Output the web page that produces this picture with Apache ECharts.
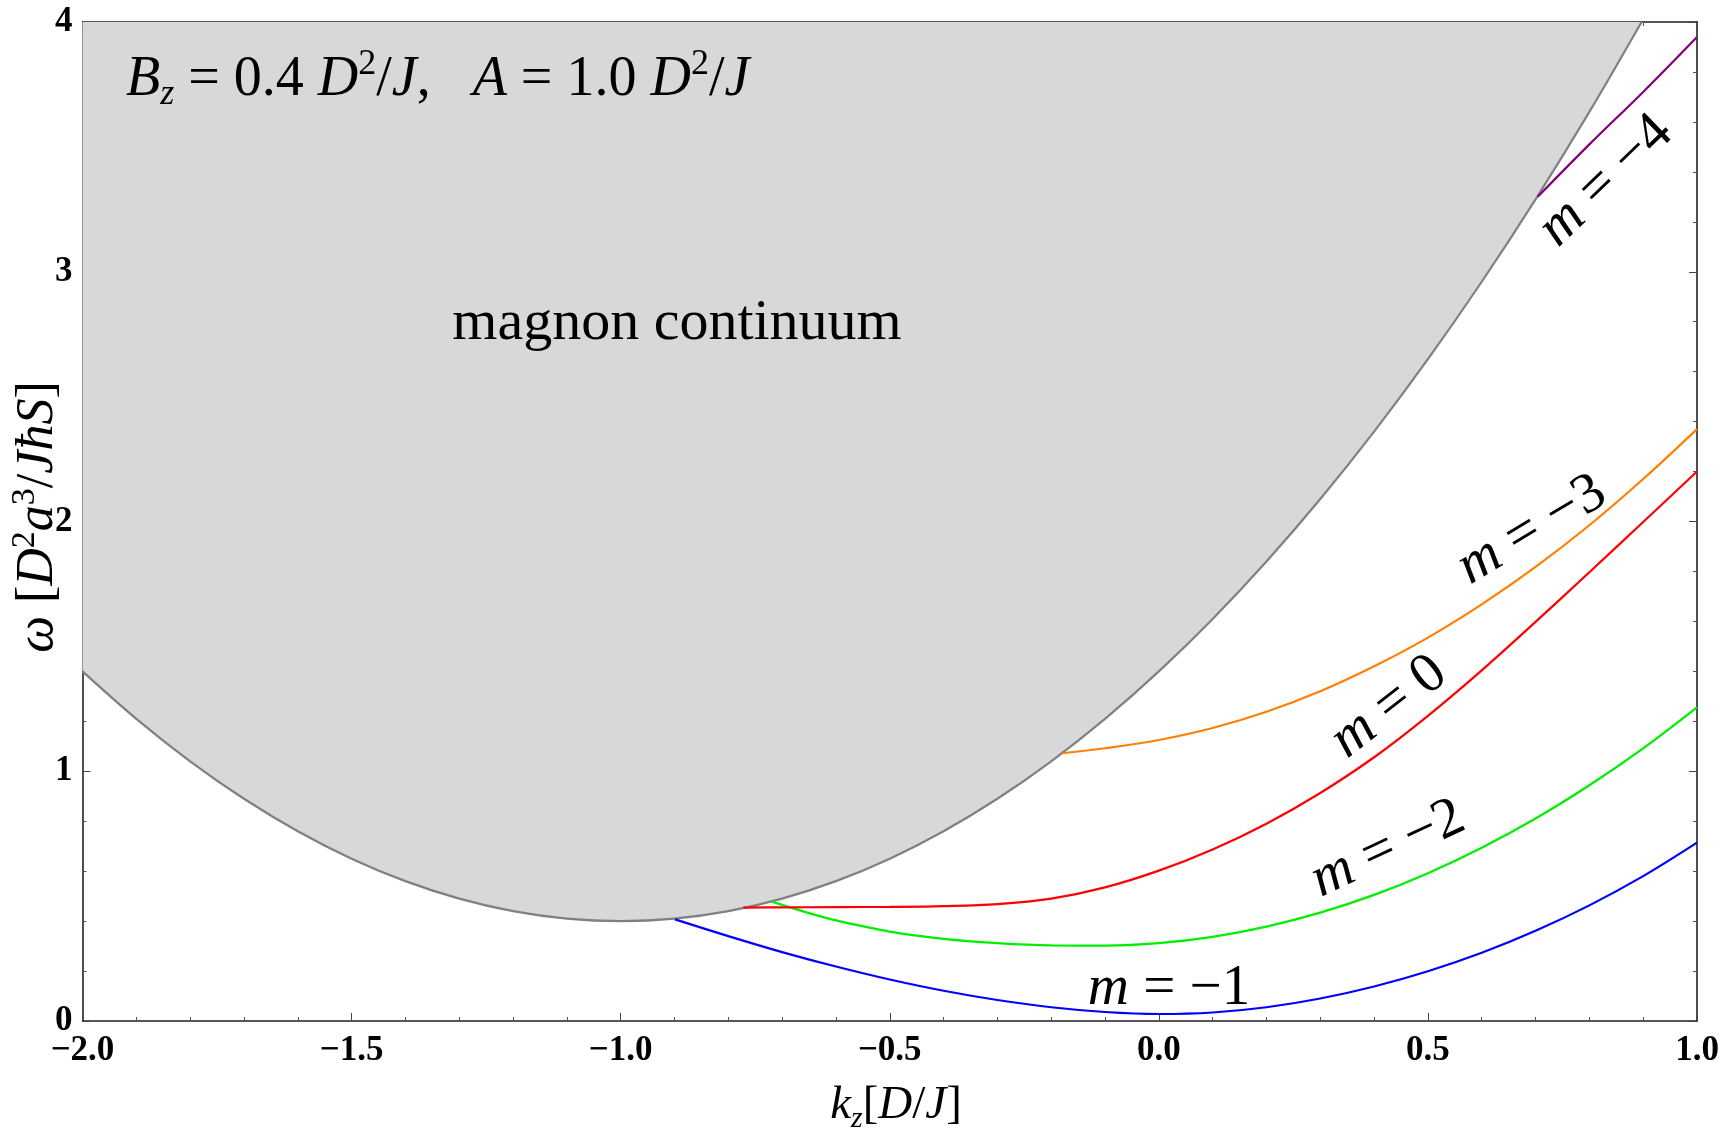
<!DOCTYPE html>
<html>
<head>
<meta charset="utf-8">
<script src="https://cdn.jsdelivr.net/npm/echarts@6/dist/echarts.min.js"></script>
<style>
html,body{margin:0;padding:0;background:#fff;}
#chart{width:1725px;height:1146px;}
</style>
</head>
<body>
<div id="chart"></div>
<script>
// ---- data ----
const contKz = [-2.0,-1.9,-1.8,-1.7,-1.6,-1.5,-1.4,-1.3,-1.2,-1.1,-1.0,-0.9,-0.8,-0.7,-0.6,-0.5,-0.4,-0.3,-0.2,-0.1,0.0,0.1,0.2,0.3,0.4,0.5,0.6,0.7,0.8,0.897];
const contW  = [1.40,1.21,1.04,0.89,0.76,0.65,0.56,0.49,0.44,0.41,0.40,0.41,0.44,0.49,0.56,0.65,0.76,0.89,1.04,1.21,1.40,1.61,1.84,2.09,2.36,2.65,2.96,3.29,3.64,4.00];

const blueKz = [-0.899,-0.8,-0.7,-0.6,-0.5,-0.4,-0.3,-0.2,-0.1,0.0,0.1,0.2,0.3,0.4,0.5,0.6,0.7,0.8,0.9,1.0];
const blueW  = [0.407,0.340,0.276,0.218,0.166,0.121,0.084,0.055,0.036,0.028,0.034,0.055,0.090,0.138,0.199,0.273,0.361,0.463,0.580,0.714];

const greenKz = [-0.719,-0.65,-0.6,-0.5,-0.4,-0.3,-0.2,-0.1,0.0,0.1,0.2,0.3,0.4,0.5,0.6,0.7,0.8,0.9,1.0];
const greenW  = [0.478,0.432,0.403,0.358,0.329,0.312,0.303,0.302,0.312,0.337,0.378,0.434,0.505,0.592,0.694,0.811,0.944,1.092,1.256];

const redKz = [-0.772,-0.7,-0.6,-0.5,-0.4,-0.3,-0.2,-0.1,0.0,0.1,0.2,0.3,0.4,0.5,0.6,0.7,0.8,0.9,1.0];
const redW  = [0.454,0.455,0.456,0.457,0.460,0.468,0.490,0.535,0.602,0.687,0.790,0.913,1.056,1.222,1.404,1.598,1.797,1.998,2.200];

const orangeKz = [-0.179,-0.1,0.0,0.1,0.2,0.3,0.4,0.5,0.6,0.7,0.8,0.9,1.0];
const orangeW  = [1.072,1.092,1.125,1.173,1.238,1.320,1.420,1.535,1.668,1.818,1.985,2.170,2.370];

const purpleKz = [0.704,0.8,0.9,1.0];
const purpleW  = [3.30,3.51,3.72,3.94];

const xTickValues = [-2.0,-1.5,-1.0,-0.5,0.0,0.5,1.0];
const xTickLabels = ['\u22122.0','\u22121.5','\u22121.0','\u22120.5','0.0','0.5','1.0'];
const yTickValues = [0,1,2,3,4];
const yTickLabels = ['0','1','2','3','4'];

const modeNames = ['\u22121','\u22122','0','\u22123','\u22124'];
// ------------------------------------------------

const SERIF = 'Liberation Serif';
function pairs(xs, ys){ return xs.map((x,i)=>[x, ys[i]]); }
function fmt(values, labels){
  return function(v){
    for (let i=0;i<values.length;i++){ if (Math.abs(values[i]-v)<1e-9) return labels[i]; }
    return '';
  };
}

const chart = echarts.init(document.getElementById('chart'), null, {renderer:'canvas'});

const frameLine = {show:true, onZero:false, lineStyle:{color:'#222', width:1.6}};
const tick = {show:true, inside:true, length:8, lineStyle:{color:'#444', width:1}};
const minor = {show:true, splitNumber:5, length:4, lineStyle:{color:'#555', width:1}};
const tickLabel = {color:'#000', fontFamily:SERIF, fontWeight:'bold', fontSize:35};

function curve(name, xs, ys, color){
  return {
    name, type:'line', data:pairs(xs,ys), showSymbol:false, symbol:'none',
    smooth:0.35, clip:true,
    lineStyle:{color, width:2.2}, z:3
  };
}

const italic = {fontStyle:'italic', fontFamily:SERIF, fill:'#000'};
function mLabel(val, x, y, deg, size){
  size = size || 57;
  return {
    type:'text', x, y, rotation: deg*Math.PI/180, z:100,
    style:{
      text:'{i|m} = ' + val, fontFamily:SERIF, fontSize:size, fill:'#000',
      align:'center', verticalAlign:'middle',
      rich:{ i:Object.assign({fontSize:size}, italic) }
    }
  };
}

const option = {
  animation:false,
  backgroundColor:'#ffffff',
  grid:{left:82.5, right:28, top:22, bottom:125, containLabel:false},
  xAxis:[
    {type:'value', min:-2, max:1, interval:0.5, position:'bottom',
     axisLine:frameLine, axisTick:tick, minorTick:minor, splitLine:{show:false},
     axisLabel:Object.assign({margin:12, formatter:fmt(xTickValues,xTickLabels)}, tickLabel)},
    {type:'value', min:-2, max:1, interval:0.5, position:'top',
     axisLine:frameLine, axisTick:tick, minorTick:minor, splitLine:{show:false},
     axisLabel:{show:false}}
  ],
  yAxis:[
    {type:'value', min:0, max:4, interval:1, position:'left',
     axisLine:frameLine, axisTick:tick, minorTick:minor, splitLine:{show:false},
     axisLabel:Object.assign({margin:10, formatter:fmt(yTickValues,yTickLabels)}, tickLabel)},
    {type:'value', min:0, max:4, interval:1, position:'right',
     axisLine:frameLine, axisTick:tick, minorTick:minor, splitLine:{show:false},
     axisLabel:{show:false}}
  ],
  series:[
    {name:'continuum', type:'line', data:pairs(contKz,contW), showSymbol:false, symbol:'none',
     smooth:0.35,
     lineStyle:{color:'#808080', width:2.2},
     areaStyle:{color:'#d8d8d8', opacity:1, origin:'end'}, z:2},
    curve('m=-1', blueKz, blueW, '#0000ff'),
    curve('m=-2', greenKz, greenW, '#00ee00'),
    curve('m=0', redKz, redW, '#ff0000'),
    curve('m=-3', orangeKz, orangeW, '#ff8000'),
    curve('m=-4', purpleKz, purpleW, '#800080')
  ],
  graphic:[
    {type:'text', x:126, y:80, z:100,
     style:{
       text:'{i|B}{sub|z} = 0.4 {i|D}{sup|2}/{i|J},   {i|A} = 1.0 {i|D}{sup|2}/{i|J}',
       fontFamily:SERIF, fontSize:56, fill:'#000', align:'left', verticalAlign:'middle',
       rich:{
         i:Object.assign({fontSize:56, lineHeight:66}, italic),
         sub:Object.assign({fontSize:36, verticalAlign:'bottom', lineHeight:66}, italic),
         sup:{fontFamily:SERIF, fontSize:36, fill:'#000', verticalAlign:'top', lineHeight:66}
       }
     }},
    {type:'text', x:677, y:324, z:100,
     style:{text:'magnon continuum', fontFamily:SERIF, fontSize:58, fill:'#000', align:'center', verticalAlign:'middle'}},
    {type:'text', x:896, y:1106, z:100,
     style:{
       text:'{i|k}{sub|z}[{i|D}/{i|J}]',
       fontFamily:SERIF, fontSize:47, fill:'#000', align:'center', verticalAlign:'middle',
       rich:{
         i:Object.assign({fontSize:47, lineHeight:56}, italic),
         sub:Object.assign({fontSize:30, verticalAlign:'bottom', lineHeight:56}, italic)
       }
     }},
    {type:'text', x:38, y:517, rotation:Math.PI/2, z:100,
     style:{
       text:'{i|\u03c9} [{i|D}{sup|2}{i|a}{sup|3}/{i|J\u0127S}]',
       fontFamily:SERIF, fontSize:52, fill:'#000', align:'center', verticalAlign:'middle',
       rich:{
         i:Object.assign({fontSize:52, lineHeight:60}, italic),
         sup:{fontFamily:SERIF, fontSize:34, fill:'#000', verticalAlign:'top', lineHeight:60}
       }
     }},
    mLabel(modeNames[0], 1169, 989, 0),
    mLabel(modeNames[1], 1388, 849, 25),
    mLabel(modeNames[2], 1389, 707, 38),
    mLabel(modeNames[3], 1532, 530, 31),
    mLabel(modeNames[4], 1606, 181, 44)
  ]
};
chart.setOption(option);
</script>
</body>
</html>
